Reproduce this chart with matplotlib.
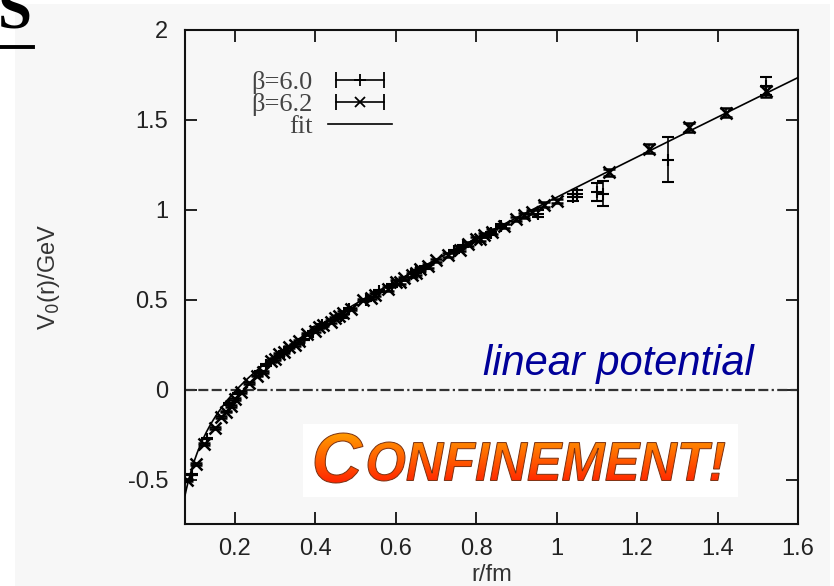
import matplotlib
matplotlib.use("Agg")
import matplotlib.pyplot as plt
import numpy as np
from matplotlib.colors import LinearSegmentedColormap
from matplotlib.font_manager import FontProperties
from matplotlib.legend_handler import HandlerLine2D, HandlerTuple
from matplotlib.lines import Line2D
from matplotlib.patches import PathPatch, Rectangle
from matplotlib.path import Path
from matplotlib.textpath import TextPath
from matplotlib.transforms import Affine2D

plt.rcParams["axes.unicode_minus"] = False
plt.rcParams["font.family"] = ["Liberation Sans", "DejaVu Sans"]

# beta = 6.2 (crosses)
r62 = [0.082, 0.104, 0.125, 0.150, 0.165, 0.178, 0.190, 0.200, 0.215, 0.235,
       0.255, 0.270, 0.290, 0.300, 0.310, 0.322, 0.335, 0.350, 0.360, 0.380,
       0.400, 0.410, 0.420, 0.440, 0.450, 0.460, 0.470, 0.490, 0.520, 0.540,
       0.550, 0.580, 0.600, 0.610, 0.620, 0.640, 0.650, 0.660, 0.680, 0.700,
       0.730, 0.760, 0.780, 0.800, 0.810, 0.820, 0.840, 0.870, 0.900, 0.920,
       0.940, 0.970, 1.000, 1.130, 1.230, 1.330, 1.420, 1.520]
V62 = [-0.50, -0.41, -0.30, -0.21, -0.15, -0.12, -0.09, -0.05, -0.01, 0.04,
       0.08, 0.10, 0.16, 0.17, 0.20, 0.21, 0.24, 0.25, 0.27, 0.31,
       0.33, 0.35, 0.36, 0.38, 0.40, 0.41, 0.43, 0.45, 0.50, 0.51,
       0.53, 0.56, 0.60, 0.60, 0.62, 0.64, 0.65, 0.67, 0.69, 0.72,
       0.75, 0.78, 0.81, 0.84, 0.84, 0.86, 0.88, 0.91, 0.95, 0.97,
       0.99, 1.03, 1.05, 1.21, 1.34, 1.46, 1.54, 1.66]
dV62 = [0.005] * 20 + [0.007] * 10 + [0.01] * 15 + [0.012] * 8 + [0.02, 0.025, 0.025, 0.025, 0.03]

# beta = 6.0 (plus signs)
r60 = [0.093, 0.131, 0.186, 0.208, 0.263, 0.279, 0.322, 0.372, 0.394, 0.417,
       0.465, 0.483, 0.527, 0.558, 0.590, 0.651, 0.672, 0.744, 0.767, 0.837,
       0.861, 0.955, 1.040, 1.052, 1.100, 1.116, 1.277, 1.520]
V60 = [-0.47, -0.27, -0.08, -0.02, 0.10, 0.14, 0.21, 0.28, 0.32, 0.36,
       0.41, 0.45, 0.50, 0.55, 0.58, 0.66, 0.68, 0.77, 0.80, 0.87,
       0.91, 0.98, 1.07, 1.09, 1.10, 1.09, 1.28, 1.69]
dV60 = [0.005] * 10 + [0.008] * 10 + [0.01, 0.02, 0.02, 0.02, 0.05, 0.07, 0.125, 0.05]

# Cornell fit V = c - a/r + sigma*r  (GeV, fm)
fit_c, fit_a, fit_sigma = 0.05, 0.055, 1.075

xticks = [0.2, 0.4, 0.6, 0.8, 1.0, 1.2, 1.4, 1.6]
xticklabels = ["0.2", "0.4", "0.6", "0.8", "1", "1.2", "1.4", "1.6"]
yticks = [-0.5, 0.0, 0.5, 1.0, 1.5, 2.0]
yticklabels = ["-0.5", "0", "0.5", "1", "1.5", "2"]

W, H = 834, 586
GREY = "#f7f7f7"
fig = plt.figure(figsize=(W / 100, H / 100), dpi=100, facecolor="white")
fig.patches.append(Rectangle((15 / W, 0), 815 / W, 1 - 4 / H, transform=fig.transFigure,
                             facecolor=GREY, edgecolor="none", zorder=-10))

# slide title remnant (underlined "S" cut at the top)
fig.text(-2 / W, 1 - 28 / H, "S", fontsize=44, fontweight="bold", family="Liberation Serif",
         ha="left", va="baseline")
fig.lines.append(Line2D([0, 33 / W], [1 - 47 / H, 1 - 47 / H], transform=fig.transFigure,
                        color="black", lw=2.8))

ax = fig.add_axes([185 / W, 1 - 524 / H, 613 / W, 494 / H])
ax.set_facecolor(GREY)

rr = np.linspace(0.0766, 1.6, 400)
ax.plot(rr, fit_c - fit_a / rr + fit_sigma * rr, color="black", lw=1.2, zorder=3)
ax.axhline(0, color="#333333", lw=1.6, dashes=(4.5, 1.5, 4.5, 1.5, 4.5, 1.5, 1, 1.5), zorder=2)

ax.errorbar(r60, V60, yerr=dV60, fmt="+", color="black", ms=9, mew=1.5,
            elinewidth=1.2, capsize=4.5, capthick=1.2, zorder=4)
ax.errorbar(r62, V62, yerr=dV62, fmt="x", color="black", ms=8.5, mew=1.8,
            elinewidth=1.2, capsize=4.5, capthick=1.2, zorder=5)

ax.set_xlim(0.0766, 1.6)
ax.set_ylim(-0.745, 2.0)
ax.set_xticks(xticks)
ax.set_xticklabels(xticklabels)
ax.set_yticks(yticks)
ax.set_yticklabels(yticklabels)
ax.tick_params(direction="in", length=8.5, width=1.3, top=True, right=True,
               labelsize=17, labelcolor="#222222", color="#111111")
ax.tick_params(axis="y", pad=12)
ax.tick_params(axis="x", pad=10)
for s in ax.spines.values():
    s.set_linewidth(1.5)
    s.set_color("#111111")

ax.set_xlabel("r/fm", fontsize=17, color="#333333")
ax.set_ylabel("V$_0$(r)/GeV", fontsize=17, color="#333333")
ax.xaxis.set_label_coords(0.5, -0.080)
ax.yaxis.set_label_coords(-0.200, 0.5)

ax.text(1.49, 0.083, "linear potential", fontsize=30, style="italic", color="#000099",
        ha="right", va="baseline", zorder=6)

# legend: label on the left, errorbar sample on the right
cap60 = Line2D([], [], color="black", lw=1.2, marker="|", ms=11, mew=1.3)
pt60 = Line2D([], [], color="black", ls="none", marker="+", ms=9, mew=1.3)
cap62 = Line2D([], [], color="black", lw=1.2, marker="|", ms=11, mew=1.3)
pt62 = Line2D([], [], color="black", ls="none", marker="x", ms=7, mew=1.3)
fit_h = Line2D([], [], color="black", lw=1.2)
ax.legend([(cap60, pt60), (cap62, pt62), fit_h], ["β=6.0", "β=6.2", "fit"],
          handler_map={tuple: HandlerTuple(ndivide=1, pad=0),
                       cap60: HandlerLine2D(numpoints=2), cap62: HandlerLine2D(numpoints=2),
                       pt60: HandlerLine2D(numpoints=1), pt62: HandlerLine2D(numpoints=1)},
          markerfirst=False, frameon=False, loc="upper left",
          bbox_to_anchor=(0.108, 0.918), borderpad=0, borderaxespad=0,
          handlelength=2.4, handletextpad=0.6, labelspacing=-0.05,
          prop=FontProperties(family="Liberation Serif", size=19), labelcolor="#444444")

# "CONFINEMENT!" badge with orange-to-red gradient lettering
box = fig.add_axes([303 / W, 1 - 497 / H, 435 / W, 73 / H], zorder=5)
box.set_axis_off()
box.add_patch(Rectangle((0, 0), 435, 73, facecolor="white", edgecolor="none"))
fp = FontProperties(family="Liberation Sans", weight="bold", style="italic")


def fit_path(text, size, x0, x1, y0, y1):
    p = TextPath((0, 0), text, size=size, prop=fp)
    ext = p.get_extents()
    t = (Affine2D().translate(-ext.x0, -ext.y0)
         .scale((x1 - x0) / ext.width, (y1 - y0) / ext.height).translate(x0, y0))
    return t.transform_path(p)


word = Path.make_compound_path(fit_path("C", 70, 12, 60, 14, 64),
                               fit_path("ONFINEMENT!", 53, 65, 422, 16, 55))
grad = LinearSegmentedColormap.from_list("conf", ["#ff2000", "#ff6000", "#ffa000"])
img = box.imshow(np.linspace(0, 1, 100).reshape(-1, 1), cmap=grad, origin="lower",
                 extent=[0, 435, 12, 66], aspect="auto", zorder=2)
img.set_clip_path(PathPatch(word, transform=box.transData))
box.add_patch(PathPatch(word, facecolor="none", edgecolor="#7a3010", lw=0.7, zorder=3))
box.set_xlim(0, 435)
box.set_ylim(0, 73)

fig.savefig("out.png", dpi=100, facecolor=fig.get_facecolor())
